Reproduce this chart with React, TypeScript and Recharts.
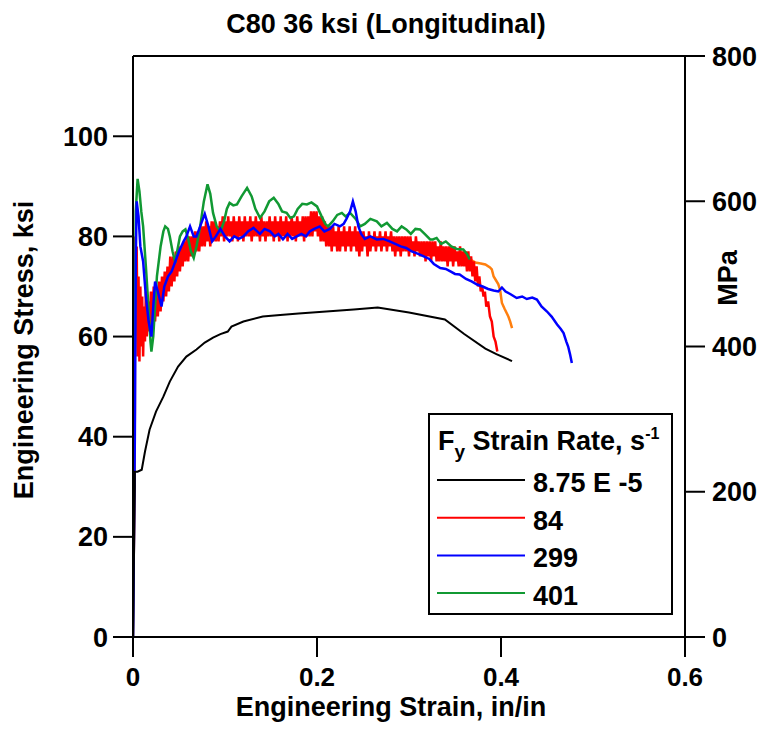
import React from "react";
import {
  ComposedChart,
  Legend,
  Line,
  ReferenceLine,
  XAxis,
  YAxis,
} from "recharts";

const FONT = "'Liberation Sans', Arial, sans-serif";

// [strain in/in, stress ksi]
const rate875e5: [number, number][] = [
  [0, 0], [0.001, 15], [0.002, 30], [0.002, 33], [0.005, 33], [0.0095, 33.4],
  [0.013, 37], [0.018, 41.4], [0.025, 45], [0.033, 48], [0.04, 51], [0.049, 54],
  [0.058, 56], [0.069, 57.4], [0.078, 58.8], [0.087, 59.8], [0.095, 60.5],
  [0.103, 61], [0.107, 62], [0.12, 63], [0.141, 64], [0.16, 64.3], [0.18, 64.6],
  [0.21, 65], [0.24, 65.4], [0.266, 65.8], [0.3, 64.8], [0.339, 63.4],
  [0.36, 60.5], [0.383, 57.6], [0.395, 56.5], [0.412, 55.1],
];

const rate84: [number, number][] = [
  [0, 0], [0.001, 20], [0.002, 45], [0.002, 80], [0.003, 62], [0.004, 78],
  [0.005, 56], [0.006, 72], [0.007, 55], [0.008, 70], [0.009, 58], [0.01, 68],
  [0.011, 56], [0.012, 66], [0.013, 59], [0.014, 69], [0.015, 60], [0.0165, 67],
  [0.018, 61], [0.0195, 69], [0.021, 62], [0.0225, 70], [0.024, 63], [0.0255, 69],
  [0.027, 64], [0.0285, 71], [0.03, 65], [0.0315, 72], [0.033, 67], [0.0345, 73],
  [0.036, 68], [0.0375, 74], [0.039, 69], [0.0405, 76], [0.042, 70], [0.0435, 76],
  [0.045, 71], [0.0465, 77], [0.048, 72], [0.0495, 78], [0.051, 73], [0.0525, 78],
  [0.054, 74], [0.0555, 79], [0.057, 75], [0.0585, 80], [0.06, 75], [0.0615, 80],
  [0.063, 76], [0.0645, 80], [0.066, 76], [0.0675, 81], [0.069, 77], [0.0705, 81],
  [0.072, 77], [0.0735, 82], [0.075, 78], [0.0765, 82], [0.078, 78], [0.0795, 83],
  [0.081, 79], [0.0825, 82], [0.084, 78], [0.0855, 83], [0.087, 79], [0.0885, 83],
  [0.09, 79], [0.0915, 82], [0.093, 79], [0.0945, 83], [0.096, 80], [0.0975, 84],
  [0.099, 79], [0.1005, 83], [0.102, 80], [0.1035, 84], [0.105, 80], [0.1065, 83],
  [0.108, 79], [0.1095, 84], [0.111, 80], [0.1125, 83], [0.114, 79], [0.1155, 84],
  [0.117, 80], [0.1185, 83], [0.12, 79], [0.1215, 84], [0.123, 80], [0.1245, 83],
  [0.126, 80], [0.1275, 84], [0.129, 79], [0.1305, 83], [0.132, 80], [0.1335, 84],
  [0.135, 80], [0.1365, 83], [0.138, 79], [0.1395, 84], [0.141, 80], [0.1425, 83],
  [0.144, 79], [0.1455, 83], [0.147, 80], [0.1485, 84], [0.15, 80], [0.1515, 83],
  [0.153, 79], [0.1545, 84], [0.156, 80], [0.1575, 83], [0.159, 79], [0.1605, 84],
  [0.162, 80], [0.1635, 83], [0.165, 80], [0.1665, 84], [0.168, 79], [0.1695, 83],
  [0.171, 80], [0.1725, 84], [0.174, 80], [0.1755, 83], [0.177, 79], [0.1785, 84],
  [0.18, 80], [0.1815, 83], [0.183, 80], [0.1845, 84], [0.186, 79], [0.1875, 84],
  [0.189, 80], [0.1905, 84], [0.192, 80], [0.1935, 85], [0.195, 80], [0.1965, 85],
  [0.198, 81], [0.1995, 85], [0.201, 80], [0.2025, 84], [0.204, 79], [0.2055, 84],
  [0.207, 79], [0.2085, 83], [0.21, 78], [0.2115, 82], [0.213, 78], [0.2145, 82],
  [0.216, 77], [0.2175, 82], [0.219, 78], [0.2205, 81], [0.222, 77], [0.2235, 82],
  [0.225, 77], [0.2265, 81], [0.228, 78], [0.2295, 82], [0.231, 77], [0.2325, 81],
  [0.234, 78], [0.2355, 82], [0.237, 77], [0.2385, 81], [0.24, 78], [0.2415, 82],
  [0.243, 77], [0.2445, 81], [0.246, 76], [0.2475, 81], [0.249, 77], [0.2505, 81],
  [0.252, 78], [0.2535, 80], [0.255, 76], [0.2565, 81], [0.258, 77], [0.2595, 80],
  [0.261, 78], [0.2625, 81], [0.264, 77], [0.2655, 80], [0.267, 78], [0.2685, 81],
  [0.27, 77], [0.2715, 80], [0.273, 78], [0.2745, 81], [0.276, 77], [0.2775, 80],
  [0.279, 78], [0.2805, 81], [0.282, 77], [0.2835, 80], [0.285, 76], [0.2865, 80],
  [0.288, 77], [0.2895, 80], [0.291, 76], [0.2925, 80], [0.294, 77], [0.2955, 80],
  [0.297, 77], [0.2985, 80], [0.3, 76], [0.3015, 80], [0.303, 77], [0.3045, 79],
  [0.306, 76], [0.3075, 80], [0.309, 77], [0.3105, 79], [0.312, 76], [0.3135, 79],
  [0.315, 76], [0.3165, 79], [0.318, 75], [0.3195, 79], [0.321, 76], [0.3225, 79],
  [0.324, 75], [0.3255, 79], [0.327, 76], [0.3285, 79], [0.33, 75], [0.3315, 78],
  [0.333, 75], [0.3345, 79], [0.336, 75], [0.3375, 78], [0.339, 75], [0.3405, 78],
  [0.342, 74], [0.3435, 78], [0.345, 75], [0.3465, 78], [0.348, 74], [0.3495, 78],
  [0.351, 75], [0.3525, 77], [0.354, 74], [0.3555, 78], [0.357, 74], [0.3585, 77],
  [0.36, 74], [0.3615, 77], [0.363, 73], [0.3645, 77], [0.366, 73], [0.3675, 76],
  [0.369, 72], [0.3705, 75], [0.372, 71], [0.3735, 74], [0.375, 70], [0.3765, 72],
  [0.378, 69], [0.3795, 70], [0.381, 68], [0.3825, 69], [0.384, 66], [0.386, 67],
  [0.388, 64], [0.39, 63], [0.392, 60], [0.394, 59], [0.396, 57],
];

const rate299: [number, number][] = [
  [0, 0], [0.002, 40], [0.003, 75], [0.004, 87], [0.006, 84], [0.008, 78],
  [0.011, 75], [0.014, 68], [0.017, 63], [0.02, 60], [0.022, 66], [0.024, 71],
  [0.027, 69], [0.031, 66], [0.034, 70], [0.038, 72], [0.042, 73], [0.046, 75],
  [0.05, 77], [0.055, 79], [0.058, 80], [0.062, 82], [0.066, 80], [0.069, 80],
  [0.073, 82], [0.078, 84.5], [0.082, 82], [0.086, 79], [0.09, 80], [0.095, 81.5],
  [0.1, 80], [0.105, 79], [0.11, 80], [0.115, 79.5], [0.12, 80], [0.125, 81],
  [0.131, 81.7], [0.135, 81], [0.138, 80.5], [0.143, 81.5], [0.149, 81],
  [0.154, 80], [0.158, 80.5], [0.163, 79.4], [0.168, 80.5], [0.173, 79.5],
  [0.178, 80], [0.183, 80.5], [0.188, 80], [0.192, 81], [0.197, 81.5],
  [0.203, 82], [0.208, 81], [0.214, 81.5], [0.219, 82.5], [0.225, 82],
  [0.229, 82.5], [0.232, 83.5], [0.236, 85], [0.239, 87], [0.242, 85],
  [0.245, 82], [0.248, 80.5], [0.252, 79.5], [0.258, 80], [0.265, 79.4],
  [0.272, 79.5], [0.279, 79], [0.285, 78.5], [0.291, 78], [0.297, 77.7],
  [0.303, 77], [0.31, 76.5], [0.316, 76], [0.322, 75.5], [0.327, 74.5],
  [0.334, 73.7], [0.34, 73.5], [0.345, 73], [0.35, 72.5], [0.355, 72.4],
  [0.362, 71.5], [0.368, 71], [0.374, 70.4], [0.38, 70], [0.386, 69.5],
  [0.392, 69.2], [0.397, 69], [0.401, 69.8], [0.405, 69], [0.41, 68.5],
  [0.417, 67.7], [0.423, 68], [0.428, 67.5], [0.434, 67.8], [0.439, 67.4],
  [0.444, 66], [0.45, 65], [0.455, 64], [0.461, 62.4], [0.465, 61.5],
  [0.468, 60.7], [0.471, 59], [0.473, 58], [0.475, 56.5], [0.477, 54.7],
];

const rate401: [number, number][] = [
  [0, 0], [0.001, 30], [0.002, 60], [0.003, 85], [0.005, 91.5], [0.007, 89],
  [0.009, 85], [0.011, 82], [0.014, 74], [0.017, 65.4], [0.019, 59], [0.02, 57],
  [0.022, 60], [0.024, 66], [0.026, 72], [0.03, 78], [0.033, 81], [0.035, 82],
  [0.038, 81.5], [0.04, 80], [0.043, 77], [0.046, 74.7], [0.048, 77], [0.051, 80],
  [0.054, 81], [0.057, 81.4], [0.06, 79.5], [0.063, 77], [0.066, 75.7],
  [0.069, 78], [0.073, 82], [0.077, 87], [0.081, 90.4], [0.084, 88.5],
  [0.087, 84.7], [0.091, 82], [0.095, 81], [0.099, 83], [0.102, 85.5],
  [0.105, 86.7], [0.109, 86.2], [0.113, 86.4], [0.118, 88], [0.124, 89.7],
  [0.129, 88], [0.133, 85.5], [0.138, 83.7], [0.143, 85], [0.148, 87],
  [0.153, 87.7], [0.158, 86.5], [0.162, 85], [0.167, 84.7], [0.171, 83.7],
  [0.175, 84], [0.179, 85.5], [0.184, 86.5], [0.189, 86.4], [0.194, 86.8],
  [0.2, 86], [0.205, 84], [0.209, 82.5], [0.212, 82], [0.217, 83], [0.222, 84.3],
  [0.227, 84.7], [0.231, 84], [0.236, 84.7], [0.242, 83.5], [0.247, 82],
  [0.252, 82.5], [0.258, 83.5], [0.265, 83], [0.27, 82], [0.276, 82.7],
  [0.282, 81.5], [0.287, 81], [0.292, 82], [0.297, 81.4], [0.302, 80.5],
  [0.307, 81.5], [0.312, 81.4], [0.317, 80.5], [0.323, 79.4], [0.326, 79.4],
  [0.33, 79.7], [0.335, 78.5], [0.34, 79], [0.346, 78], [0.352, 77.5],
  [0.359, 77.4], [0.363, 76.5], [0.366, 75.4],
];

// unlabelled orange tail
const tail: [number, number][] = [
  [0.366, 75.4], [0.372, 74.8], [0.378, 74.6], [0.383, 74.4], [0.388, 73.8],
  [0.39, 73.4], [0.392, 72], [0.394, 71.4], [0.397, 70.5], [0.399, 69.4],
  [0.4, 68], [0.401, 66.7], [0.404, 65.5], [0.408, 64], [0.41, 63], [0.412, 61.7],
];

const xTicks = [0, 0.2, 0.4, 0.6];
const ksiTicks = [0, 20, 40, 60, 80, 100];
const mpaTicks = [0, 200, 400, 600, 800];
const KSI_MAX = 800 / 6.89476;

const toPoints = (arr: [number, number][]) => arr.map(([x, y]) => ({ x, y }));

const tickStyle = { fill: "#000", fontSize: 27, fontWeight: "bold", fontFamily: FONT };
const xTickStyle = { ...tickStyle, fontSize: 26 };
const lineStyle = { stroke: "#000", strokeWidth: 2 };

const LegendBox = ({ payload }: any) => {
  const items = (payload || []).filter((p: any) => p.type !== "none");
  return (
    <div
      style={{
        width: 245,
        height: 202,
        border: "2px solid #000",
        boxSizing: "border-box",
        background: "#fff",
      }}
    >
      <svg width={241} height={198} style={{ display: "block" }}>
        <text x={8} y={35} fontSize={27} fontWeight="bold" fontFamily={FONT} fill="#000">
          F<tspan dy={8} fontSize={19}>y</tspan>
          <tspan dy={-8}> Strain Rate, s</tspan>
          <tspan dy={-11} fontSize={16}>-1</tspan>
        </text>
        {items.map((p: any, i: number) => {
          const y = 65 + i * 37.7;
          return (
            <g key={p.value}>
              <line x1={7} x2={95} y1={y} y2={y} stroke={p.color} strokeWidth={2} />
              <text
                x={103}
                y={y + 12}
                fontSize={27}
                fontWeight="bold"
                fontFamily={FONT}
                fill="#000"
              >
                {p.value}
              </text>
            </g>
          );
        })}
      </svg>
    </div>
  );
};

export default function App() {
  return (
    <div style={{ position: "absolute", left: 0, top: 0, background: "#fff" }}>
      <ComposedChart
        width={764}
        height={735}
        margin={{ top: 56, right: 19, bottom: 38, left: 33 }}
      >
        <XAxis
          type="number"
          dataKey="x"
          domain={[0, 0.6]}
          ticks={xTicks}
          allowDataOverflow
          height={60}
          tickSize={20}
          tickMargin={11}
          tick={xTickStyle}
          tickLine={lineStyle}
          axisLine={lineStyle}
        />
        <YAxis
          yAxisId="ksi"
          type="number"
          domain={[0, KSI_MAX]}
          ticks={ksiTicks}
          allowDataOverflow
          width={100}
          tickSize={20}
          tickMargin={5}
          tick={tickStyle}
          tickLine={lineStyle}
          axisLine={lineStyle}
        />
        <YAxis
          yAxisId="mpa"
          orientation="right"
          type="number"
          domain={[0, 800]}
          ticks={mpaTicks}
          allowDataOverflow
          width={60}
          tickSize={20}
          tickMargin={7}
          tick={tickStyle}
          tickLine={lineStyle}
          axisLine={lineStyle}
        />
        <ReferenceLine yAxisId="mpa" y={800} stroke="#000" strokeWidth={2} />
        <Line
          yAxisId="ksi"
          data={toPoints(tail)}
          dataKey="y"
          name="tail"
          stroke="#ff7f0e"
          strokeWidth={2.5}
          dot={false}
          legendType="none"
          isAnimationActive={false}
        />
        <Line
          yAxisId="ksi"
          data={toPoints(rate84)}
          dataKey="y"
          name="84"
          stroke="#ff0000"
          strokeWidth={2.5}
          dot={false}
          isAnimationActive={false}
        />
        <Line
          yAxisId="ksi"
          data={toPoints(rate401)}
          dataKey="y"
          name="401"
          stroke="#119933"
          strokeWidth={2.5}
          dot={false}
          isAnimationActive={false}
        />
        <Line
          yAxisId="ksi"
          data={toPoints(rate299)}
          dataKey="y"
          name="299"
          stroke="#0000ff"
          strokeWidth={2.5}
          dot={false}
          isAnimationActive={false}
        />
        <Line
          yAxisId="ksi"
          data={toPoints(rate875e5)}
          dataKey="y"
          name="8.75 E -5"
          stroke="#000"
          strokeWidth={2}
          dot={false}
          isAnimationActive={false}
        />
        <Legend
          layout="horizontal"
          verticalAlign="middle"
          align="center"
          itemSorter={(item: any) =>
            ["8.75 E -5", "84", "299", "401"].indexOf(item.value)
          }
          content={<LegendBox />}
          wrapperStyle={{ left: 428, top: 413, width: 245, height: 202 }}
        />
        <text x={386} y={33} textAnchor="middle" fontSize={27} fontWeight="bold" fontFamily={FONT} fill="#000">
          C80 36 ksi (Longitudinal)
        </text>
        <text x={391} y={716} textAnchor="middle" fontSize={27} fontWeight="bold" fontFamily={FONT} fill="#000">
          Engineering Strain, in/in
        </text>
        <text transform="translate(33,350) rotate(-90)" textAnchor="middle" fontSize={27} fontWeight="bold" fontFamily={FONT} fill="#000">
          Engineering Stress, ksi
        </text>
        <text transform="translate(737,278) rotate(-90)" textAnchor="middle" fontSize={27} fontWeight="bold" fontFamily={FONT} fill="#000">
          MPa
        </text>
      </ComposedChart>
    </div>
  );
}
